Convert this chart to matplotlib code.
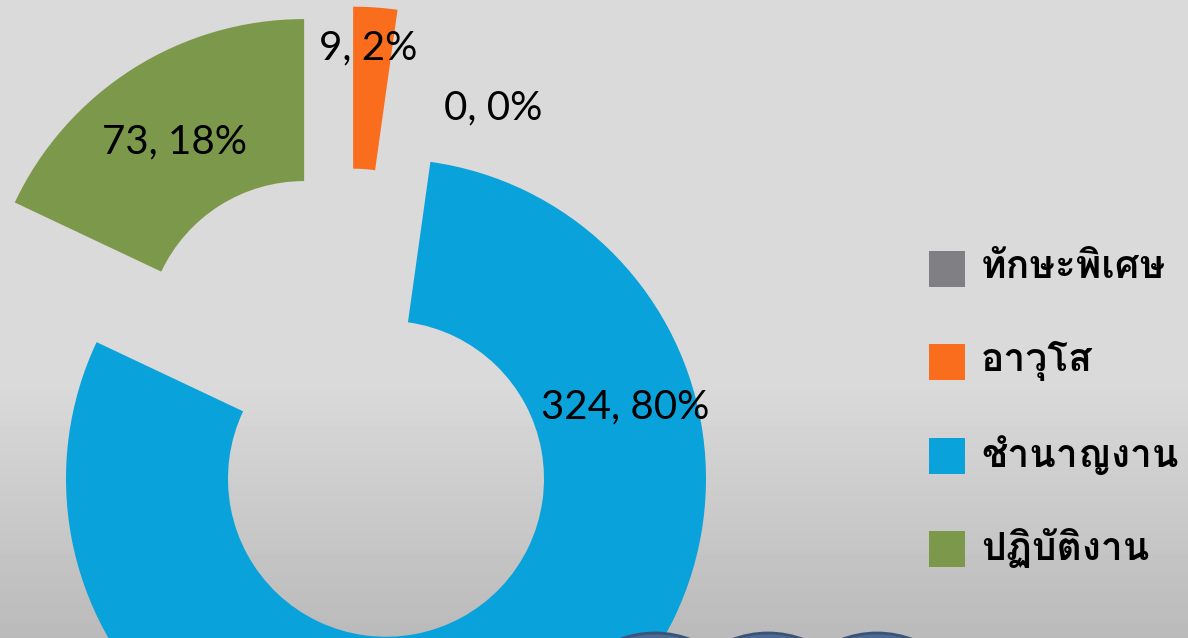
import matplotlib
matplotlib.use("Agg")
import matplotlib.pyplot as plt
from matplotlib.patches import Circle, Rectangle
import numpy as np

# ข้อมูล
categories = ["ทักษะพิเศษ", "อาวุโส", "ชำนาญงาน", "ปฏิบัติงาน"]
values = [0, 9, 324, 73]
colors = ["#7f7f84", "#f96d1c", "#09a2da", "#7c994b"]
label_pos = [(493, 108), (368, 48), (625, 407), (175, 142)]  # ตำแหน่งป้าย (พิกเซล)

W, H = 1188, 638
fig = plt.figure(figsize=(W / 100, H / 100), dpi=100)

# พื้นหลังไล่สีเทา
bg = fig.add_axes([0, 0, 1, 1], zorder=0)
yy = np.linspace(0, 1, 200)
shade = np.where(yy < 0.6, 218, 218 - (yy - 0.6) / 0.4 * 32) / 255
grad = np.repeat(shade[:, None], 2, axis=1)
bg.imshow(grad, cmap="gray", vmin=0, vmax=1, aspect="auto", extent=[0, 1, 1, 0])
bg.axis("off")

ax = fig.add_axes([0, 0, 1, 1], zorder=1)
ax.patch.set_alpha(0)

total = sum(values)
wedges, _ = ax.pie(values, colors=colors, radius=320, center=(347.5, H - 407.5),
                   startangle=90, counterclock=False, explode=[81] * len(values),
                   wedgeprops=dict(width=162, linewidth=0))

for v, (px, py) in zip(values, label_pos):
    ax.text(px, H - py, f"{v}, {round(v / total * 100)}%", ha="center", va="center",
            fontsize=29, family=["Lato", "DejaVu Sans"], color="black")

# วงกลมตกแต่งด้านล่าง
for cx in [655, 768, 877]:
    ax.add_patch(Circle((cx, H - 733), 100, facecolor="#4d6a94", edgecolor="#3a5378",
                        linewidth=2, zorder=5))

# คำอธิบาย
leg_y = [269, 362, 456, 549]
for name, c, ly in zip(categories, colors, leg_y):
    ax.add_patch(Rectangle((929, H - ly - 18), 36, 36, facecolor=c, linewidth=0))
    ax.text(981, H - ly + 1, name, ha="left", va="center", fontsize=28, fontweight="bold",
            family=["Loma", "DejaVu Sans"], color="black")

ax.set_xlim(0, W)
ax.set_ylim(0, H)
ax.set_aspect("auto")
ax.axis("off")

fig.savefig("out.png", dpi=100)
